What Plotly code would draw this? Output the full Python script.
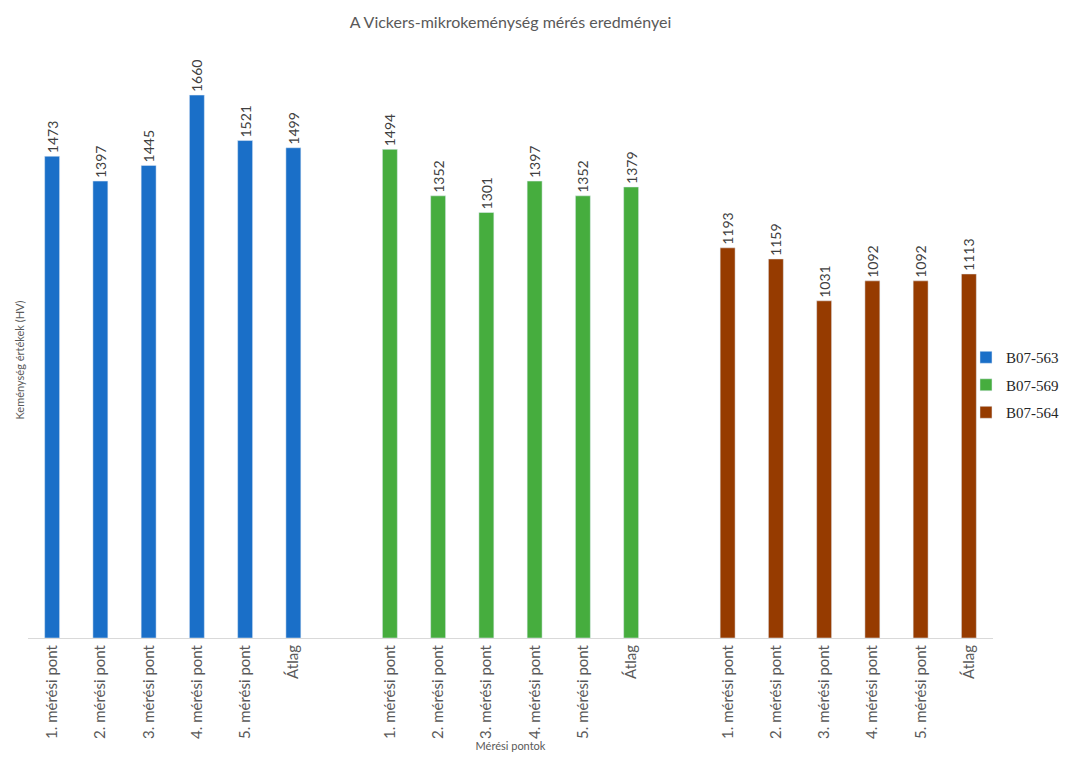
import plotly.graph_objects as go

categories = ["1. mérési pont", "2. mérési pont", "3. mérési pont",
              "4. mérési pont", "5. mérési pont", "Átlag"]
series_names = ["B07-563", "B07-569", "B07-564"]
b07_563 = [1473, 1397, 1445, 1660, 1521, 1499]
b07_569 = [1494, 1352, 1301, 1397, 1352, 1379]
b07_564 = [1193, 1159, 1031, 1092, 1092, 1113]
colors = ["#1a6fc8", "#46ad3e", "#963b00"]

series_values = [b07_563, b07_569, b07_564]
group_step = len(categories) + 1

fig = go.Figure()
tickvals, ticktext = [], []
for g, (name, vals, col) in enumerate(zip(series_names, series_values, colors)):
    xs = [g * group_step + i for i in range(len(categories))]
    tickvals += xs
    ticktext += categories
    fig.add_trace(go.Bar(
        x=xs, y=vals, name=name, marker_color=col, width=0.31,
        legendgroup=name,
        text=[str(v) for v in vals], textposition="outside", textangle=-90,
        constraintext="none", cliponaxis=False,
        textfont=dict(family="Lato", size=14, color="#404040"),
    ))

fig.update_layout(
    width=1065, height=760,
    margin=dict(l=28, r=72, t=82, b=122, autoexpand=False),
    paper_bgcolor="white", plot_bgcolor="white",
    barmode="overlay",
    title=dict(text="A Vickers-mikrokeménység mérés eredményei",
               x=0.5, xref="paper", xanchor="center", y=0.971, yanchor="middle",
               font=dict(family="Lato", size=16, color="#595959")),
    legend=dict(x=0.972, xanchor="left", y=0.455, yanchor="middle",
                traceorder="grouped", tracegroupgap=5,
                font=dict(family="Liberation Serif", size=15, color="#262626"),
                itemwidth=30, bgcolor="rgba(0,0,0,0)"),
    xaxis=dict(range=[-0.5, 3 * group_step - 1.5], tickmode="array",
               tickvals=tickvals, ticktext=ticktext, tickangle=-90,
               showline=True, linecolor="#d9d9d9", linewidth=1,
               showgrid=False, zeroline=False, ticks="", automargin=False,
               tickfont=dict(family="Lato", size=15, color="#595959"),
               title=dict(text="Mérési pontok", standoff=2,
                          font=dict(family="Lato", size=11, color="#595959"))),
    yaxis=dict(range=[0, 1700], showticklabels=False, showgrid=False,
               zeroline=False, showline=False, ticks="", automargin=False,
               title=dict(text="Keménység értékek (HV)", standoff=0,
                          font=dict(family="Lato", size=11, color="#595959"))),
)

fig.write_html("out.html", config={"displayModeBar": False},
               post_script="document.body.style.margin='0px';")
